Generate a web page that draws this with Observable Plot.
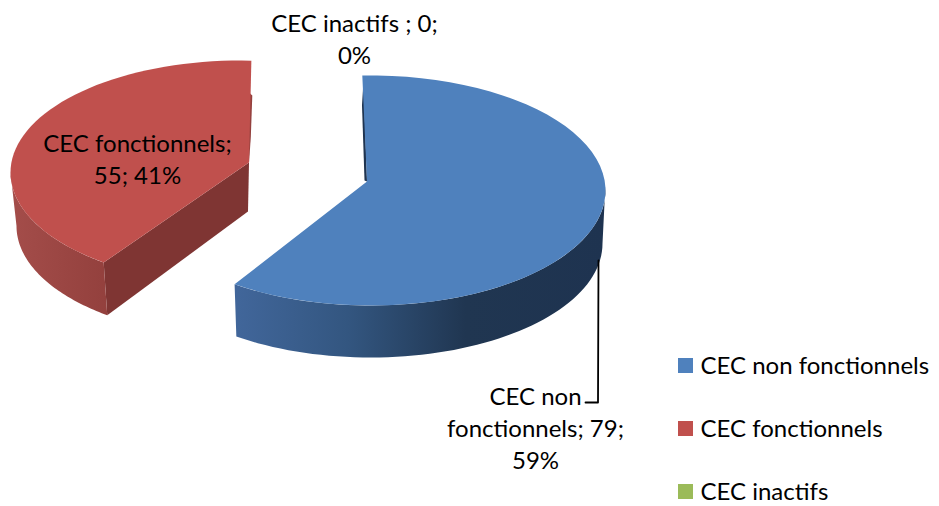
<!DOCTYPE html>
<html>
<head>
<meta charset="utf-8">
<script src="https://cdn.jsdelivr.net/npm/d3@7"></script>
<script src="https://cdn.jsdelivr.net/npm/@observablehq/plot@0.6"></script>
<style>
html,body{margin:0;padding:0;background:#fff;overflow:hidden}
svg{display:block}
</style>
</head>
<body>
<div id="chart"></div>
<script>
// Data
const names = ["CEC non fonctionnels", "CEC fonctionnels", "CEC inactifs"];
const values = [79, 55, 0];
const topColors = ["#4f81bd", "#c0504d", "#9bbb59"];
const faceColors = ["#1f3450", "#7f3533", "#5f7a33"];
const labelTexts = ["CEC non\nfonctionnels; 79;\n59%", "CEC fonctionnels;\n55; 41%", "CEC inactifs ; 0;\n0%"];

// 3D view of each slice (the pie is exploded and seen in perspective)
const views = [
  {cx: 370, cy: 190, rx: 235, ry: 115, bx: 370, by: 243, brx: 232, bry: 114, start: -2, k: 1.024,
   apex: [366.5, 181]},
  {cx: 240, cy: 172, rx: 230, ry: 112, bx: 240, by: 225.5, brx: 224, bry: 111, start: 216.5, k: 0.9895,
   apex: [248.5, 162]}
];
const total = d3.sum(values);
const rad = d => d * Math.PI / 180;
const arc = (v, a0, a1, bottom = false) => d3.range(0, 61).map(i => {
  const a = rad(a0 + (a1 - a0) * i / 60);
  return bottom
    ? [v.bx + v.brx * Math.sin(a), v.by - v.bry * Math.cos(a)]
    : [v.cx + v.rx * Math.sin(a), v.cy - v.ry * Math.cos(a)];
});
const xy = (extra = {}) => ({x: d => d[0], y: d => d[1], stroke: "none", curve: "linear", ...extra});

const marks = [];
// gradients for the rim walls
marks.push(() => {
  const defs = d3.create("svg:defs");
  const grad = (id, x1, x2, stops) => {
    const g = defs.append("linearGradient").attr("id", id).attr("gradientUnits", "userSpaceOnUse")
      .attr("x1", x1).attr("x2", x2).attr("y1", 0).attr("y2", 0);
    stops.forEach(([o, c]) => g.append("stop").attr("offset", o).attr("stop-color", c));
  };
  grad("wallBlue", 237, 605, [[0, "#41669a"], [0.3, "#335680"], [0.62, "#203651"], [1, "#1e3350"]]);
  grad("wallRed", 10, 108, [[0, "#a44d4a"], [1, "#93403d"]]);
  return defs.node();
});

values.forEach((val, i) => {
  if (!val || !views[i]) return;
  const v = views[i];
  const a0 = v.start;
  const a1 = v.start + v.k * val / total * 360;
  const topEdge = [...arc(v, a0, a1), v.apex];
  if (i === 0) {
    // inner sliver at start of the slice
    marks.push(Plot.line([[v.cx - 7, v.cy - 110], [v.cx - 8.5, v.cy - 85], [v.apex[0] - 2.5, v.apex[1] - 1], v.apex],
      xy({fill: faceColors[0]})));
    // outer rim
    const wallTop = arc(v, 88, a1);
    const wallBottom = arc(v, 90, a1, true).reverse();
    marks.push(Plot.line([...wallTop, ...wallBottom], xy({fill: "url(#wallBlue)"})));
  } else {
    // inner cut face
    const corner = arc(v, a0, a0)[0];
    const cornerB = arc(v, a0, a0, true)[0];
    marks.push(Plot.line([v.apex, [v.apex[0] - 1, v.apex[1] + 49], cornerB, corner],
      xy({fill: faceColors[1]})));
    // inner sliver at the end of the slice
    marks.push(Plot.line([[v.apex[0], v.apex[1] - 70], [v.apex[0] + 3.3, v.apex[1] - 67], [v.apex[0] + 1.8, v.apex[1] - 25], v.apex],
      xy({fill: "#94413e"})));
    // outer rim
    const wallTop = arc(v, a0, 270);
    const wallBottom = arc(v, 270, a0, true);
    marks.push(Plot.line([...wallTop, ...wallBottom], xy({fill: "url(#wallRed)"})));
  }
  marks.push(Plot.line(topEdge, xy({fill: topColors[i]})));
});

// leader line
const leader = [[598, 260], [597.5, 402], [585, 402]];
marks.push(Plot.line(leader, {x: d => d[0], y: d => d[1], stroke: "#000", strokeWidth: 1.8, curve: "linear"}));

// data labels
const labelPos = [[535, 426], [137, 157], [354, 37.5]];
const FONT = "Lato";
const FS = 24;
marks.push(Plot.text(labelTexts, {
  x: (d, i) => labelPos[i][0], y: (d, i) => labelPos[i][1], text: d => d,
  lineAnchor: "middle", textAnchor: "middle", fontSize: FS, fontFamily: FONT, fill: "#000", lineHeight: 32 / FS
}));

// legend
const legendY = i => 365.5 + i * 63;
marks.push(Plot.rect(names, {
  x1: 678, x2: 693, y1: (d, i) => legendY(i) - 7.5, y2: (d, i) => legendY(i) + 7.5,
  fill: (d, i) => topColors[i]
}));
marks.push(Plot.text(names, {
  x: 700, y: (d, i) => legendY(i) + 0.5, text: d => d, textAnchor: "start", lineAnchor: "middle",
  fontSize: FS, fontFamily: FONT, fill: "#000"
}));

const plot = Plot.plot({
  width: 939, height: 506, margin: 0,
  x: {type: "identity", axis: null}, y: {type: "identity", axis: null},
  style: {background: "#fff"},
  marks
});
document.getElementById("chart").append(plot);
</script>
</body>
</html>
